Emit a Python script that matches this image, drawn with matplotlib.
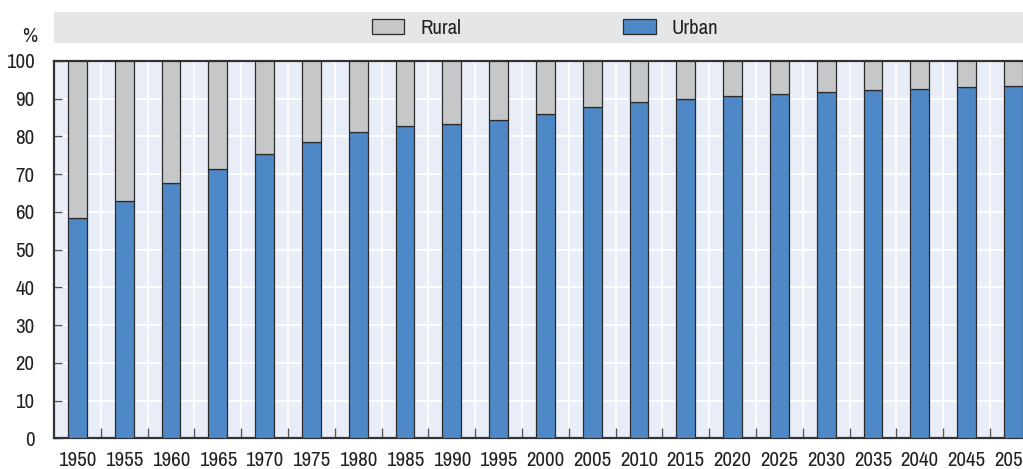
import matplotlib
matplotlib.use("Agg")
import matplotlib.pyplot as plt
import numpy as np
from matplotlib.patches import Rectangle, Patch

plt.rcParams['font.family'] = ['Archivo Narrow', 'DejaVu Sans']

years = ["1950", "1955", "1960", "1965", "1970", "1975", "1980", "1985", "1990", "1995",
         "2000", "2005", "2010", "2015", "2020", "2025", "2030", "2035", "2040", "2045", "2050"]
urban = [58.3, 63.0, 67.6, 71.5, 75.3, 78.5, 81.3, 82.8, 83.3, 84.4,
         86.0, 87.7, 89.1, 90.0, 90.8, 91.3, 91.8, 92.2, 92.7, 93.0, 93.4]
rural = [100 - u for u in urban]

urban_color = "#4E88C7"
rural_color = "#C6C7C9"
bg_color = "#E9EDF7"
band_color = "#E5E6E8"
edge = "#2B2B2B"
fs = 15

fig = plt.figure(figsize=(10.23, 4.69), dpi=100)
ax = fig.add_axes([54/1023, (469-438.3)/469, 21*46.8/1023, (438.3-61)/469])
ax.set_facecolor(bg_color)

x = np.arange(len(years))
w = 0.4
ax.bar(x, urban, width=w, color=urban_color, edgecolor=edge, linewidth=0.9, zorder=3, label="Urban")
ax.bar(x, rural, width=w, bottom=urban, color=rural_color, edgecolor=edge, linewidth=0.9, zorder=3, label="Rural")

ax.set_xlim(-0.5, len(years) - 0.5)
ax.set_ylim(0, 100)
ax.set_yticks(np.arange(0, 101, 10))
ax.set_xticks(x)
ax.set_xticklabels(years)
ax.set_xticks(x[:-1] + 0.5, minor=True)

ax.grid(axis='y', which='major', color='white', linewidth=1.3, zorder=1)
ax.grid(axis='x', which='minor', color='white', linewidth=1.3, zorder=1)
ax.grid(axis='x', which='major', visible=False)
ax.set_axisbelow(True)

ax.tick_params(axis='x', which='major', length=0, labelsize=fs, pad=9, colors='#222222')
ax.tick_params(axis='x', which='minor', length=7, direction='in', color='#555555', width=1)
ax.tick_params(axis='y', which='major', length=6, direction='in', color='#555555', width=1,
               labelsize=fs, pad=14, labelcolor='#222222')

for s in ['left', 'bottom', 'top']:
    ax.spines[s].set_color('#333333')
    ax.spines[s].set_linewidth(1.6)
ax.spines['right'].set_visible(False)

fig.text(30/1023, 1 - 36/469, "%", fontsize=fs, ha='center', va='center', color='#222222')

fig.add_artist(Rectangle((54/1023, 1 - 43/469), (1023-54)/1023, 31/469,
                         transform=fig.transFigure, facecolor=band_color, edgecolor='none', zorder=0))

handles = [Patch(facecolor=rural_color, edgecolor=edge, linewidth=0.9, label="Rural"),
           Patch(facecolor=urban_color, edgecolor=edge, linewidth=0.9, label="Urban")]
fig.legend(handles=handles, loc='center', bbox_to_anchor=(545/1023, 1 - 28.5/469), ncol=2,
           frameon=False, fontsize=fs, handlelength=1.55, handleheight=0.75, handletextpad=0.75,
           columnspacing=7.8, borderpad=0, labelcolor='#222222')

fig.savefig("out.png", dpi=100)
